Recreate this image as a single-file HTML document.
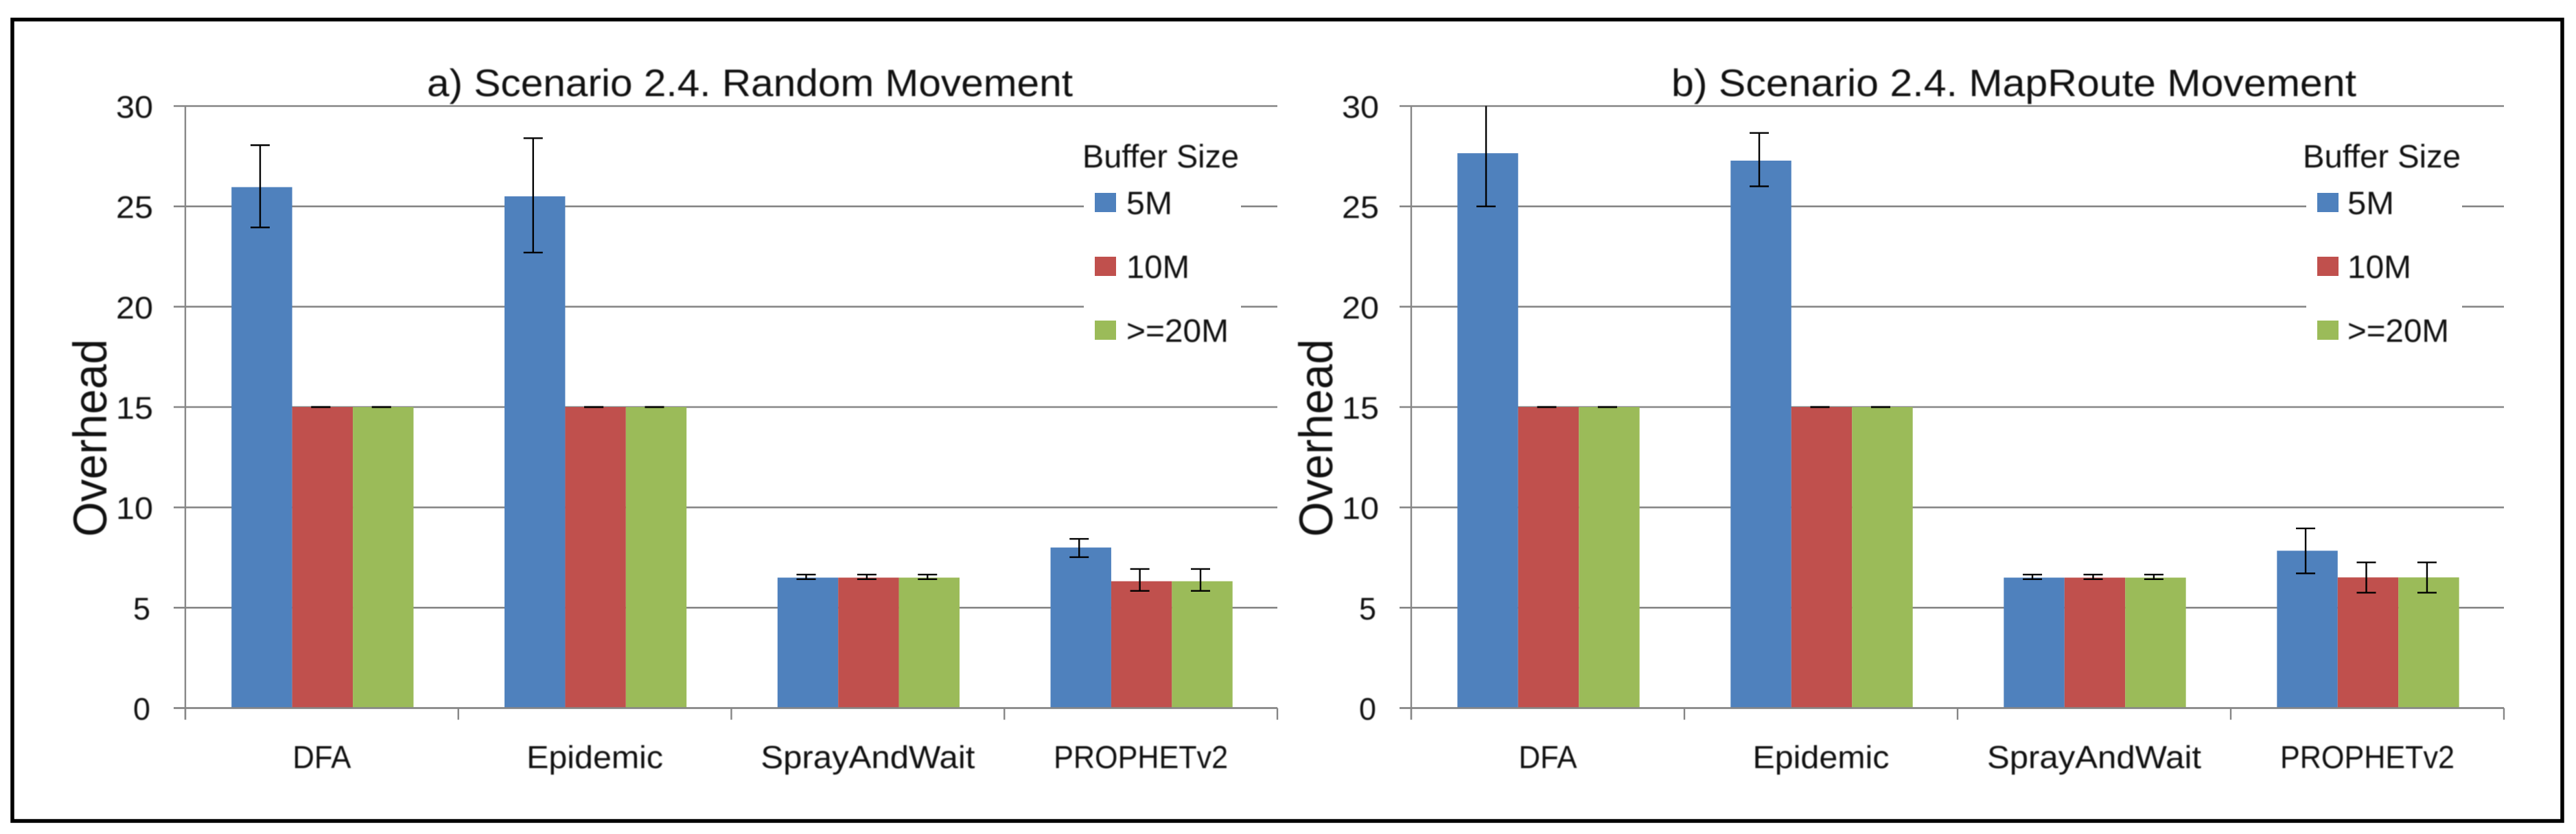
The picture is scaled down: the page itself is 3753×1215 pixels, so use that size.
<!DOCTYPE html>
<html lang="en">
<head>
<meta charset="utf-8">
<title>Scenario 2.4 Overhead Charts</title>
<style>
html,body{margin:0;padding:0;background:#fff;width:3753px;height:1215px;overflow:hidden}
svg{display:block}
text{font-family:"Liberation Sans",sans-serif;fill:#111;filter:blur(0.7px)}
</style>
</head>
<body>
<svg id="figure" xmlns="http://www.w3.org/2000/svg" width="3753" height="1215" viewBox="0 0 3753 1215">
<rect x="0" y="0" width="3753" height="1215" fill="#fff"/>
<rect x="18" y="28.5" width="3715" height="1167.5" fill="none" stroke="#000" stroke-width="5.5"/>
</svg>
<script>
const categories = ['DFA', 'Epidemic', 'SprayAndWait', 'PROPHETv2'];
const seriesNames = ['5M', '10M', '>=20M'];
const yTickLabels = [0, 5, 10, 15, 20, 25, 30];

const aValues5M = [25.96, 25.5, 6.5, 8.0];
const aValues10M = [15, 15, 6.5, 6.32];
const aValues20M = [15, 15, 6.5, 6.32];
const aUpper5M = [28.05, 28.4, 6.65, 8.43];
const aLower5M = [23.95, 22.7, 6.42, 7.52];
const aUpper10M = [15, 15, 6.65, 6.93];
const aLower10M = [15, 15, 6.42, 5.84];
const aUpper20M = [15, 15, 6.65, 6.93];
const aLower20M = [15, 15, 6.42, 5.84];

const bValues5M = [27.65, 27.28, 6.5, 7.84];
const bValues10M = [15, 15, 6.5, 6.51];
const bValues20M = [15, 15, 6.5, 6.51];
const bUpper5M = [30.3, 28.66, 6.65, 8.95];
const bLower5M = [25, 26, 6.42, 6.71];
const bUpper10M = [15, 15, 6.65, 7.26];
const bLower10M = [15, 15, 6.42, 5.75];
const bUpper20M = [15, 15, 6.65, 7.26];
const bLower20M = [15, 15, 6.42, 5.75];

const seriesColors = ['#4F81BD', '#C0504D', '#9BBB59'];
const categoryLabelWidth = {'DFA': 85, 'Epidemic': 199, 'SprayAndWait': 312, 'PROPHETv2': 254};
const yMax = 30;
const yZeroPx = 1031.5;
const yTopPx = 154.5;

const svg = document.getElementById('figure');
const NS = 'http://www.w3.org/2000/svg';

function yPos(v) { return yZeroPx - (v / yMax) * (yZeroPx - yTopPx); }
function catWidth(p) { return (p.right - p.left) / categories.length; }
function barWidth(p) { return catWidth(p) / 4.5; }
function catX(p, i) { return p.left + catWidth(p) * i; }
function barX(p, i, s) { return catX(p, i) + barWidth(p) * 0.75 + barWidth(p) * s + 1; }

function make(parent, tag, attrs, content) {
  const el = document.createElementNS(NS, tag);
  for (const k in attrs) el.setAttribute(k, attrs[k]);
  if (content !== undefined) el.textContent = content;
  parent.appendChild(el);
  return el;
}
function line(parent, x1, y1, x2, y2, color, w) {
  return make(parent, 'line', {x1: x1, y1: y1, x2: x2, y2: y2, stroke: color, 'stroke-width': w});
}
function label(parent, x, y, str, size, width) {
  return make(parent, 'text', {x: x, y: y, 'font-size': size, textLength: width, lengthAdjust: 'spacingAndGlyphs'}, str);
}

function drawPanel(p) {
  const g = make(svg, 'g', {});
  
  

  yTickLabels.forEach(function (t) {
    const y = yPos(t);
    const grid = line(g, p.left - 17, y, p.right, y, '#868686', 2.6);
    
    
    const s = String(t);
    const w = s.length * 27;
    const x = s.length === 1 ? p.left - 76 : p.left - 101;
    const tl = label(g, x, y + 17, s, 45, s.length === 1 ? 25 : w);
    
    
  });

  const yAxis = line(g, p.left, yTopPx, p.left, yZeroPx + 17, '#868686', 2.4);
  
  

  for (let i = 0; i <= categories.length; i++) {
    const tick = line(g, catX(p, i), yZeroPx, catX(p, i), yZeroPx + 17, '#868686', 2.4);
    
    
  }

  // Legend backing breaks the gridlines behind it
  const legendBg = make(g, 'rect', {x: p.legendBgX, y: 200, width: p.legendBgW, height: 340, fill: '#fff'});
  
  

  p.series.forEach(function (vals, s) {
    vals.forEach(function (v, i) {
      const bar = make(g, 'rect', {x: barX(p, i, s), y: yPos(v), width: barWidth(p), height: yZeroPx - yPos(v), fill: seriesColors[s]});
      
      
    });
  });

  const axisOver = line(g, p.left - 17, yZeroPx, p.right, yZeroPx, '#868686', 2.6);
  
  

  p.series.forEach(function (vals, s) {
    vals.forEach(function (v, i) {
      const cx = barX(p, i, s) + barWidth(p) / 2 - 2.5;
      const up = p.upper[s][i];
      const lo = p.lower[s][i];
      const clipped = up > yMax;
      const topY = yPos(Math.min(up, yMax));
      const botY = yPos(lo);
      const stem = line(g, cx, topY, cx, botY, '#000', 2.4);
      
      
      if (!clipped) {
        const capTop = line(g, cx - 14, topY, cx + 14, topY, '#000', 2.4);
        
        
      }
      const capBot = line(g, cx - 14, botY, cx + 14, botY, '#000', 2.4);
      
      
    });
  });

  categories.forEach(function (c, i) {
    const w = categoryLabelWidth[c];
    const cx = catX(p, i) + catWidth(p) / 2;
    const cl = label(g, cx - w / 2, 1119, c, 46, w);
    
    
  });

  const title = label(g, p.titleX, 140, p.title, 56, p.titleW);
  
  

  const yTitle = make(g, 'text', {x: p.yTitleX, y: 782, 'font-size': 69, textLength: 288, lengthAdjust: 'spacingAndGlyphs', transform: 'rotate(-90 ' + p.yTitleX + ' 782)'}, 'Overhead');
  
  

  const lt = label(g, p.legendTitleX, 244, 'Buffer Size', 47, p.legendTitleW);
  
  

  seriesNames.forEach(function (name, s) {
    const rowTop = 281 + s * 93;
    const key = make(g, 'rect', {x: p.keyX, y: rowTop, width: p.keyW, height: 28, fill: seriesColors[s]});
    
    
    const ll = label(g, p.legendLabelX, rowTop + 31, name, 47, p.legendLabelW[s]);
    
    
  });
}

drawPanel({
  id: 'panel-a',
  title: 'a) Scenario 2.4. Random Movement',
  left: 270, right: 1861,
  titleX: 622, titleW: 941, yTitleX: 155,
  legendBgX: 1579, legendBgW: 229,
  legendTitleX: 1577, legendTitleW: 228,
  keyX: 1595, keyW: 31,
  legendLabelX: 1641, legendLabelW: [67, 92, 149],
  series: [aValues5M, aValues10M, aValues20M],
  upper: [aUpper5M, aUpper10M, aUpper20M],
  lower: [aLower5M, aLower10M, aLower20M]
});
drawPanel({
  id: 'panel-b',
  title: 'b) Scenario 2.4. MapRoute Movement',
  left: 2056, right: 3648,
  titleX: 2435, titleW: 998, yTitleX: 1941,
  legendBgX: 3360, legendBgW: 227,
  legendTitleX: 3355, legendTitleW: 230,
  keyX: 3376, keyW: 31,
  legendLabelX: 3420, legendLabelW: [68, 93, 148],
  series: [bValues5M, bValues10M, bValues20M],
  upper: [bUpper5M, bUpper10M, bUpper20M],
  lower: [bLower5M, bLower10M, bLower20M]
});
</script>
</body>
</html>
